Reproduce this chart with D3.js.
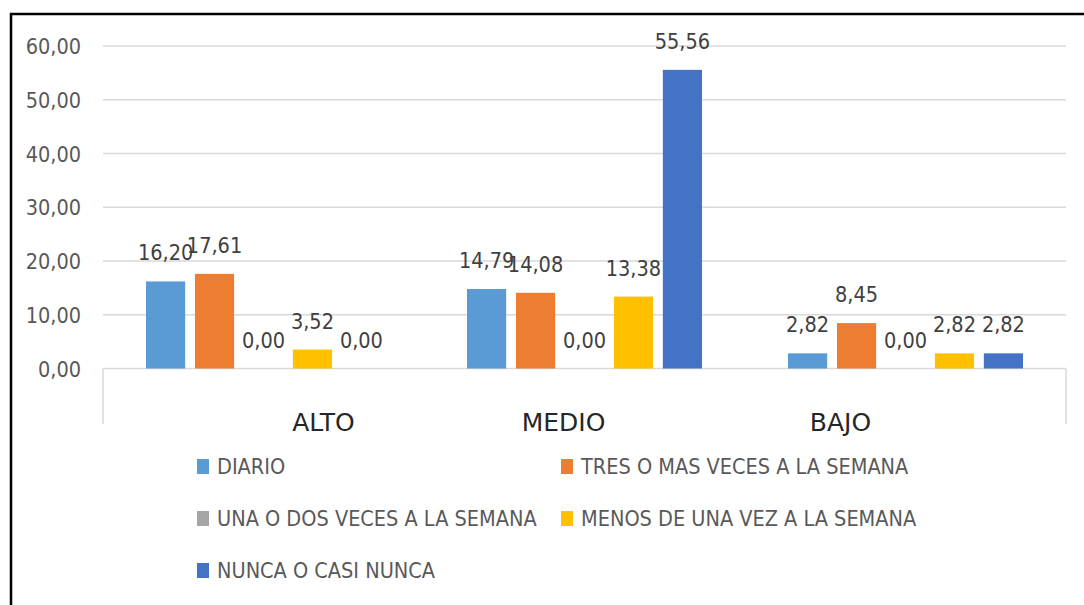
<!DOCTYPE html>
<html>
<head>
<meta charset="utf-8">
<script src="https://cdn.jsdelivr.net/npm/d3@7"></script>
<style>
  html, body { margin: 0; padding: 0; background: #fff; }
  svg { display: block; }
  text { font-family: "DejaVu Sans", sans-serif; font-stretch: condensed; }
</style>
</head>
<body>
<svg id="chart" width="1084" height="605"></svg>
<script>
const categories = ["ALTO", "MEDIO", "BAJO"];
const seriesNames = [
  "DIARIO",
  "TRES O MAS VECES A LA SEMANA",
  "UNA O DOS VECES A LA SEMANA",
  "MENOS DE UNA VEZ A LA SEMANA",
  "NUNCA O CASI NUNCA"
];
const diario = [16.20, 14.79, 2.82];
const tresOMas = [17.61, 14.08, 8.45];
const unaODos = [0.00, 0.00, 0.00];
const menosDeUna = [3.52, 13.38, 2.82];
const nunca = [0.00, 55.56, 2.82];
const yTicks = [0, 10, 20, 30, 40, 50, 60];
const colors = ["#5b9bd5", "#ed7d31", "#a5a5a5", "#ffc000", "#4472c4"];

const seriesValues = [diario, tresOMas, unaODos, menosDeUna, nunca];

const svg = d3.select("#chart");
const fmt = v => v.toFixed(2).replace(".", ",");

const plotLeft = 103, plotRight = 1066, plotTop = 46, plotBottom = 368.5;
const FS = 21.5;

// outer chart border (partial, as in the reference)
svg.append("path")
  .attr("d", `M11,605 L11,14 L1084,14`)
  .attr("fill", "none").attr("stroke", "#000").attr("stroke-width", 2.5);

const y = d3.scaleLinear().domain([0, 60]).range([plotBottom, plotTop]);
const x0 = d3.scaleBand().domain(categories).range([plotLeft, plotRight]).padding(0);
const groupW = 235;
const x1 = d3.scaleBand().domain(seriesNames)
  .range([(x0.bandwidth() - groupW) / 2, (x0.bandwidth() + groupW) / 2])
  .paddingInner(0.2).paddingOuter(0);

// gridlines
svg.append("g").selectAll("line").data(yTicks.filter(t => t > 0)).join("line")
  .attr("x1", plotLeft).attr("x2", plotRight)
  .attr("y1", d => y(d)).attr("y2", d => y(d))
  .attr("stroke", "#d9d9d9").attr("stroke-width", 1.5);

// y axis labels
const yAxis = d3.axisLeft(y).tickValues(yTicks).tickFormat(fmt).tickSize(0).tickPadding(0);
const yg = svg.append("g").attr("transform", `translate(81,0)`).call(yAxis);
yg.select(".domain").remove();
yg.selectAll("text").attr("fill", "#595959").attr("font-size", FS)
  .attr("font-family", "DejaVu Sans").attr("dy", "0.35em");

// category axis: baseline and outer vertical lines
svg.append("line").attr("x1", plotLeft).attr("x2", plotRight)
  .attr("y1", plotBottom).attr("y2", plotBottom)
  .attr("stroke", "#d9d9d9").attr("stroke-width", 1.5);
[plotLeft, plotRight].forEach(xx => {
  svg.append("line").attr("x1", xx).attr("x2", xx)
    .attr("y1", plotBottom).attr("y2", 424)
    .attr("stroke", "#d9d9d9").attr("stroke-width", 1.5);
});

// category labels (the reference places them off-centre)
const catLabelShift = [60, -21, -65];
const xAxis = d3.axisBottom(x0).tickSize(0).tickPadding(0);
const xg = svg.append("g").attr("transform", `translate(0,431)`).call(xAxis);
xg.select(".domain").remove();
xg.selectAll("text").attr("fill", "#262626").attr("font-size", 25)
  .attr("font-family", "DejaVu Sans").style("font-stretch", "normal").attr("dy", 0)
  .attr("transform", (d, i) => `translate(${catLabelShift[i]},0)`);

// bars
const groups = svg.append("g").selectAll("g").data(categories).join("g")
  .attr("transform", d => `translate(${x0(d)},0)`);

groups.each(function(cat, ci) {
  const g = d3.select(this);
  const data = seriesNames.map((s, si) => ({ s, si, v: seriesValues[si][ci] }));
  g.selectAll("rect").data(data).join("rect")
    .attr("x", d => x1(d.s))
    .attr("width", x1.bandwidth())
    .attr("y", d => y(d.v))
    .attr("height", d => y(0) - y(d.v))
    .attr("fill", d => colors[d.si]);
  g.selectAll("text").data(data).join("text")
    .attr("x", d => x1(d.s) + x1.bandwidth() / 2)
    .attr("y", d => y(d.v) - 21)
    .attr("text-anchor", "middle")
    .attr("fill", "#404040")
    .attr("font-size", FS)
    .text(d => fmt(d.v));
});

// legend
const legendPos = [
  [197, 466], [561, 466],
  [197, 518], [561, 518],
  [197, 570]
];
const lg = svg.append("g").selectAll("g").data(seriesNames).join("g")
  .attr("transform", (d, i) => `translate(${legendPos[i][0]},${legendPos[i][1]})`);
lg.append("rect").attr("x", 0).attr("y", -7).attr("width", 12).attr("height", 15)
  .attr("fill", (d, i) => colors[i]);
lg.append("text").attr("x", 20).attr("y", 0).attr("dy", "0.35em")
  .attr("fill", "#595959").attr("font-size", FS)
  .text(d => d);
</script>
</body>
</html>
